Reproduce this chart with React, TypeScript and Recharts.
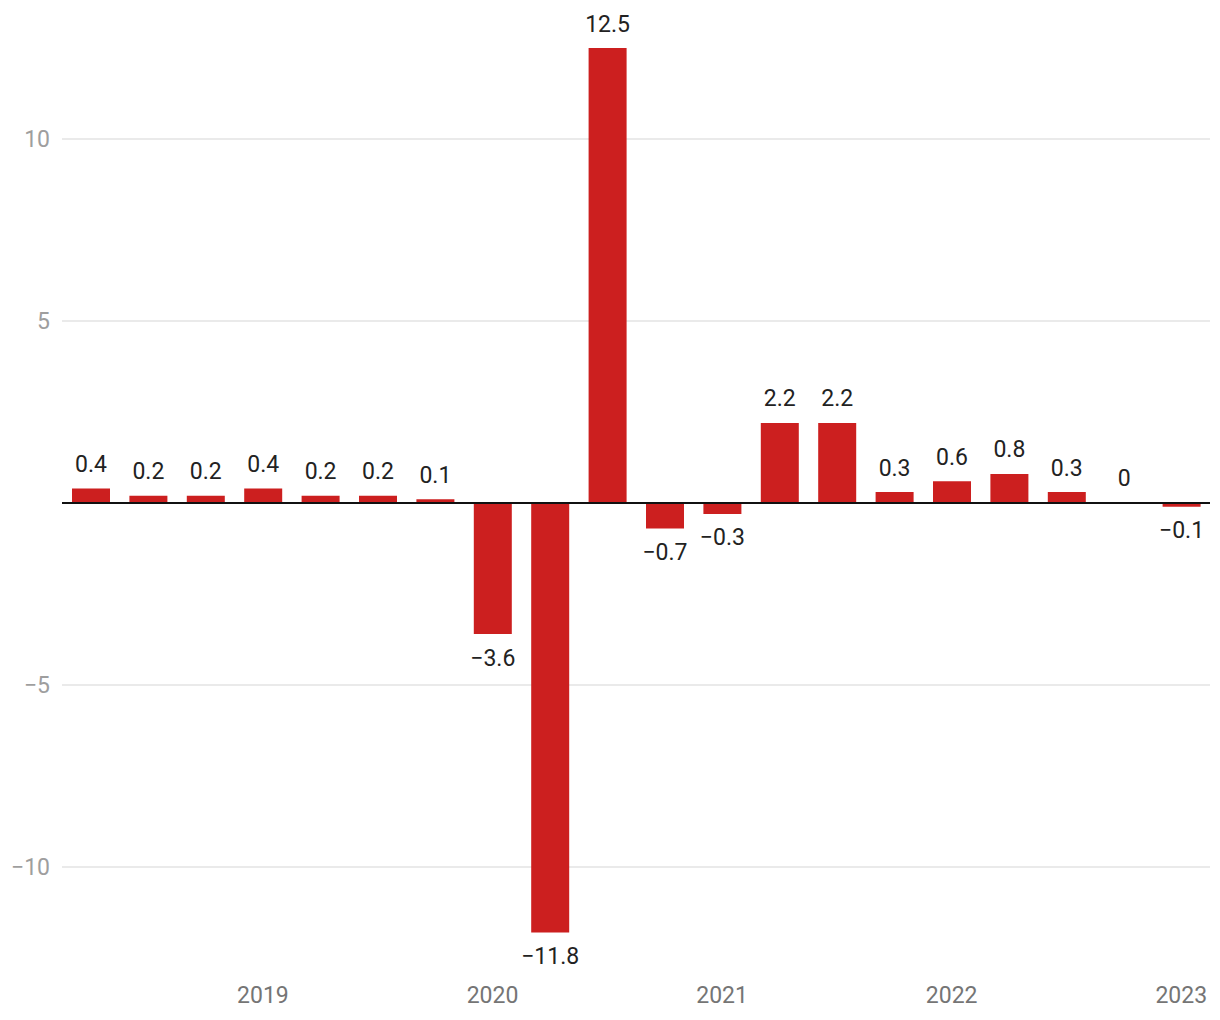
import { BarChart, Bar, XAxis, YAxis, CartesianGrid, ReferenceLine, LabelList } from 'recharts';

const quarters = [
  '2018 Q2', '2018 Q3', '2018 Q4', '2019 Q1', '2019 Q2', '2019 Q3', '2019 Q4',
  '2020 Q1', '2020 Q2', '2020 Q3', '2020 Q4', '2021 Q1', '2021 Q2', '2021 Q3',
  '2021 Q4', '2022 Q1', '2022 Q2', '2022 Q3', '2022 Q4', '2023 Q1',
];
const growth = [0.4, 0.2, 0.2, 0.4, 0.2, 0.2, 0.1, -3.6, -11.8, 12.5, -0.7, -0.3, 2.2, 2.2, 0.3, 0.6, 0.8, 0.3, 0, -0.1];
const yTicks = [-10, -5, 5, 10];

const chartData = quarters.map((q, i) => ({ quarter: q, value: growth[i] }));

const fmt = (v: number) => String(v).replace('-', '\u2212');

function ValueLabel(props: any) {
  const { x, y, width, height, value } = props;
  const top = Math.min(y, y + height);
  const bottom = Math.max(y, y + height);
  const ty = value >= 0 ? top - 24 : bottom + 24;
  return (
    <text x={x + width / 2} y={ty} textAnchor="middle" dominantBaseline="central" fill="#222" fontSize={23}>
      {fmt(value)}
    </text>
  );
}

export default function App() {
  return (
    <div style={{ fontFamily: 'Roboto, sans-serif' }}>
      <style>{`body{margin:0}`}</style>
      <BarChart
        width={1220}
        height={1018}
        data={chartData}
        margin={{ top: 11.6, right: 10, left: 0, bottom: 0 }}
        barSize={38}
      >
        <CartesianGrid vertical={false} stroke="#e3e3e3" strokeWidth={1.5} syncWithTicks />
        <XAxis
          dataKey="quarter"
          interval={0}
          height={41.8}
          tickSize={0}
          tickMargin={10}
          axisLine={false}
          tick={{ fill: '#757575', fontSize: 23 }}
          tickFormatter={(q: string) => (q.endsWith('Q1') ? q.slice(0, 4) : '')}
        />
        <YAxis
          domain={[-13, 13.5]}
          ticks={yTicks}
          width={62}
          tickSize={0}
          tickMargin={12}
          axisLine={false}
          tick={{ fill: '#9e9e9e', fontSize: 23 }}
          tickFormatter={(v: number) => fmt(v)}
        />
        <Bar dataKey="value" fill="#cc1f1f" minPointSize={1} isAnimationActive={false}>
          <LabelList dataKey="value" content={<ValueLabel />} />
        </Bar>
        <ReferenceLine y={0} stroke="#111" strokeWidth={2} />
      </BarChart>
    </div>
  );
}
